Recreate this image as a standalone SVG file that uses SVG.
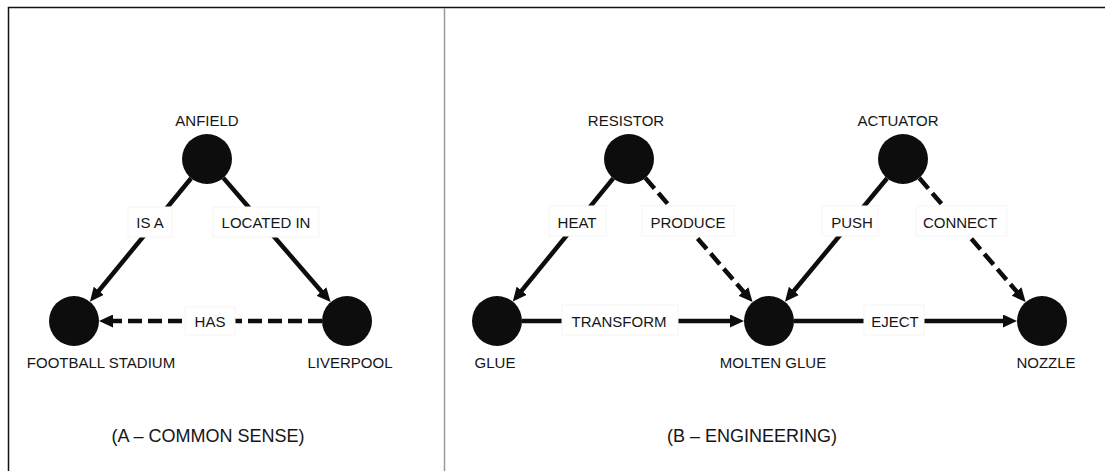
<svg xmlns="http://www.w3.org/2000/svg" width="1105" height="471" viewBox="0 0 1105 471">
<style>
.bg{fill:#ffffff}
.frame{stroke:#111;stroke-width:1.5;fill:none}
.divider{stroke:#9a9a9a;stroke-width:1.5;fill:none}
.node{fill:#0d0d0d}
.edge{stroke:#0d0d0d;stroke-width:4.5;fill:none}
.dash{stroke-dasharray:14 6}
.lbox{fill:#ffffff;stroke:#f5f5f5;stroke-width:1}
.t{font-family:"Liberation Sans",Arial,sans-serif;font-size:15px;fill:#151515;text-anchor:middle}
.cap{font-family:"Liberation Sans",Arial,sans-serif;font-size:18px;fill:#151515;text-anchor:middle}
</style>
<defs>
<marker id="arr" markerUnits="userSpaceOnUse" markerWidth="14" markerHeight="13" refX="5" refY="6.5" orient="auto" viewBox="0 0 14 13">
<path d="M0,0 L14,6.5 L0,13 z" fill="#0d0d0d"/>
</marker>
</defs>
<rect class="bg" x="0" y="0" width="1105" height="471"/>
<g id="frame">
<path class="frame" d="M8.5,471 V7.5 H1105"/>
<line class="divider" x1="444.5" y1="8" x2="444.5" y2="471"/>
</g>
<g id="connectors">
<line class="edge" x1="191.1" y1="178.3" x2="95.6" y2="294.7" marker-end="url(#arr)"/>
<line class="edge" x1="223.3" y1="177.9" x2="324.7" y2="295.3" marker-end="url(#arr)"/>
<line class="edge dash" x1="322" y1="321" x2="108" y2="321" marker-end="url(#arr)"/>
<line class="edge" x1="613.2" y1="178.4" x2="518.5" y2="294.6" marker-end="url(#arr)"/>
<line class="edge dash" x1="645.3" y1="177.9" x2="746.7" y2="295.3" marker-end="url(#arr)"/>
<line class="edge" x1="887.1" y1="178.3" x2="790.7" y2="294.8" marker-end="url(#arr)"/>
<line class="edge dash" x1="919.3" y1="178.0" x2="1019.8" y2="295.2" marker-end="url(#arr)"/>
<line class="edge" x1="522" y1="321" x2="735" y2="321" marker-end="url(#arr)"/>
<line class="edge" x1="794" y1="321" x2="1008" y2="321" marker-end="url(#arr)"/>
<g id="edge-labels">
<rect class="lbox" x="128" y="207" width="44" height="30"/><text class="t" x="150" y="227.5">IS A</text>
<rect class="lbox" x="213" y="207" width="106" height="30"/><text class="t" x="266" y="227.5">LOCATED IN</text>
<rect class="lbox" x="185" y="307" width="50" height="28"/><text class="t" x="210" y="326.5">HAS</text>
<rect class="lbox" x="549" y="206" width="57" height="30"/><text class="t" x="577" y="227.5">HEAT</text>
<rect class="lbox" x="642" y="206" width="92" height="30"/><text class="t" x="688" y="227.5">PRODUCE</text>
<rect class="lbox" x="562" y="305" width="116" height="30"/><text class="t" x="619" y="326.5">TRANSFORM</text>
<rect class="lbox" x="822" y="206" width="56" height="30"/><text class="t" x="852" y="227.5">PUSH</text>
<rect class="lbox" x="916" y="206" width="91" height="30"/><text class="t" x="960" y="227.5">CONNECT</text>
<rect class="lbox" x="864" y="305" width="60" height="30"/><text class="t" x="895" y="326.5">EJECT</text>
</g>
</g>
<g id="anfield"><circle class="node" cx="207" cy="159" r="25"/><text class="t" x="207" y="125.5">ANFIELD</text></g>
<g id="football-stadium"><circle class="node" cx="74" cy="321" r="25"/><text class="t" x="101" y="367.5">FOOTBALL STADIUM</text></g>
<g id="liverpool"><circle class="node" cx="347" cy="321" r="25"/><text class="t" x="350" y="367.5">LIVERPOOL</text></g>
<g id="resistor"><circle class="node" cx="629" cy="159" r="25"/><text class="t" x="626" y="125.5">RESISTOR</text></g>
<g id="actuator"><circle class="node" cx="903" cy="159" r="25"/><text class="t" x="898" y="125.5">ACTUATOR</text></g>
<g id="glue"><circle class="node" cx="497" cy="321" r="25"/><text class="t" x="495" y="367.5">GLUE</text></g>
<g id="molten-glue"><circle class="node" cx="769" cy="321" r="25"/><text class="t" x="773" y="367.5">MOLTEN GLUE</text></g>
<g id="nozzle"><circle class="node" cx="1042" cy="321" r="25"/><text class="t" x="1046" y="367.5">NOZZLE</text></g>
<g id="captions">
<text class="cap" x="208" y="441.5">(A – COMMON SENSE)</text>
<text class="cap" x="752" y="441.5">(B – ENGINEERING)</text>
</g>
</svg>
